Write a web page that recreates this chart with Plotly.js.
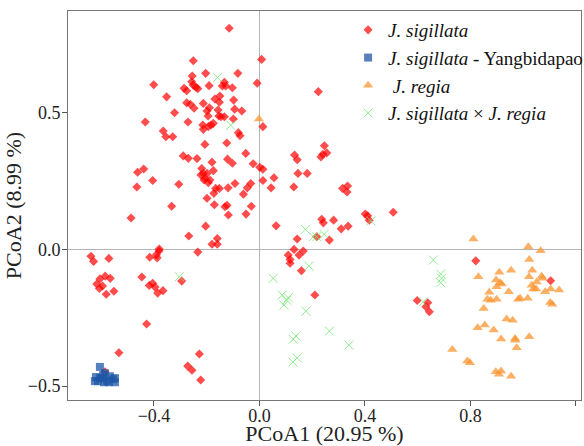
<!DOCTYPE html>
<html>
<head>
<meta charset="utf-8">
<script src="https://cdn.plot.ly/plotly-3.0.1.min.js"></script>
<style>html,body{margin:0;padding:0;background:#fff;}#chart{width:584px;height:446px;}</style>
</head>
<body>
<div id="chart"></div>
<script>
// J. sigillata
const sigX = [-0.115,-0.251,0.008,-0.204,-0.082,-0.255,-0.401,-0.257,-0.251,-0.241,-0.286,-0.276,-0.191,-0.133,-0.128,-0.141,-0.103,-0.009,-0.234,-0.352,-0.150,-0.169,-0.098,-0.276,-0.262,-0.248,-0.213,-0.152,-0.190,-0.199,-0.195,-0.157,-0.154,-0.146,-0.133,-0.094,-0.067,-0.099,-0.322,-0.433,-0.271,-0.175,-0.184,-0.194,-0.215,-0.213,0.013,-0.365,-0.355,-0.329,-0.080,-0.074,-0.207,-0.124,-0.052,-0.289,-0.270,-0.237,-0.180,-0.121,-0.103,-0.024,0.001,0.013,0.055,-0.462,-0.439,-0.405,-0.465,-0.306,-0.219,-0.213,-0.222,-0.199,-0.207,-0.188,-0.175,-0.194,-0.210,-0.166,-0.152,-0.173,-0.119,-0.093,-0.046,-0.033,-0.061,0.013,0.044,-0.199,-0.333,-0.487,-0.204,-0.268,0.063,-0.160,-0.180,-0.160,-0.380,-0.171,-0.131,-0.123,-0.118,-0.031,-0.051,-0.639,-0.629,-0.571,-0.416,-0.391,-0.381,-0.388,-0.234,-0.605,-0.617,-0.607,-0.595,-0.585,-0.566,-0.581,-0.552,-0.446,-0.418,-0.405,-0.396,-0.386,-0.366,-0.295,-0.428,-0.533,-0.228,-0.272,-0.256,-0.223,-0.586,0.246,0.255,0.233,0.240,0.133,0.143,0.146,0.181,0.130,0.315,0.334,0.332,0.236,0.242,0.281,0.310,0.336,0.401,0.410,0.416,0.507,0.143,0.217,0.265,0.131,0.166,0.109,0.116,0.116,0.150,0.159,0.210,0.598,0.223,0.820,1.104,0.638,0.631,0.644];
const sigY = [0.809,0.690,0.695,0.644,0.644,0.634,0.602,0.613,0.601,0.593,0.589,0.580,0.599,0.611,0.598,0.598,0.591,0.608,0.588,0.558,0.561,0.550,0.546,0.536,0.531,0.516,0.534,0.538,0.518,0.506,0.488,0.510,0.488,0.485,0.485,0.513,0.506,0.477,0.500,0.466,0.466,0.461,0.455,0.449,0.455,0.439,0.449,0.433,0.412,0.412,0.427,0.416,0.384,0.389,0.351,0.342,0.333,0.332,0.319,0.330,0.315,0.313,0.300,0.293,0.262,0.282,0.294,0.252,0.228,0.238,0.296,0.278,0.272,0.278,0.260,0.254,0.288,0.244,0.254,0.223,0.223,0.205,0.225,0.241,0.225,0.241,0.202,0.252,0.225,0.187,0.158,0.115,0.085,0.049,0.086,0.040,0.019,0.019,0.001,0.163,0.156,0.161,0.126,0.158,0.129,-0.025,-0.044,-0.033,-0.029,-0.020,-0.006,-0.031,-0.010,-0.108,-0.127,-0.143,-0.134,-0.098,-0.106,-0.164,-0.153,-0.101,-0.132,-0.124,-0.138,-0.160,-0.151,-0.116,-0.273,-0.378,-0.383,-0.427,-0.442,-0.478,-0.448,0.379,0.353,0.338,0.348,0.345,0.328,0.278,0.278,0.228,0.223,0.232,0.210,0.110,0.097,0.107,0.075,0.085,0.129,0.123,0.107,0.136,0.038,0.046,0.034,0.000,-0.006,-0.021,-0.037,-0.051,-0.021,-0.078,-0.167,-0.187,0.577,-0.042,-0.115,-0.195,-0.210,-0.228];
// J. sigillata - Yangbidapao
const yangX = [-0.605,-0.620,-0.612,-0.597,-0.586,-0.578,-0.567,-0.556,-0.548,-0.548,-0.590,-0.605,-0.624,-0.571,-0.593];
const yangY = [-0.430,-0.467,-0.482,-0.471,-0.453,-0.482,-0.464,-0.475,-0.486,-0.471,-0.486,-0.471,-0.482,-0.486,-0.460];
// J. regia
const regX = [-0.002,0.811,1.019,1.066,1.023,0.830,0.909,0.954,1.034,1.022,1.070,1.073,0.897,0.912,0.899,0.918,1.051,1.032,1.038,1.049,0.871,0.864,0.877,0.899,0.945,0.981,0.988,1.017,1.083,1.104,1.136,1.102,1.110,0.850,0.937,0.960,0.827,0.854,0.888,0.916,0.969,0.970,1.023,0.975,0.731,0.788,0.798,0.896,0.916,0.908,0.954];
const regY = [0.477,0.038,0.010,-0.005,-0.037,-0.100,-0.084,-0.076,-0.076,-0.100,-0.098,-0.106,-0.112,-0.122,-0.137,-0.127,-0.119,-0.131,-0.145,-0.145,-0.157,-0.182,-0.186,-0.182,-0.155,-0.182,-0.179,-0.179,-0.155,-0.145,-0.149,-0.194,-0.201,-0.216,-0.255,-0.259,-0.287,-0.277,-0.295,-0.328,-0.326,-0.332,-0.320,-0.360,-0.366,-0.408,-0.415,-0.448,-0.445,-0.457,-0.464];
// J. sigillata × J. regia
const hybX = [-0.159,-0.109,-0.304,0.174,0.204,0.217,0.245,0.422,0.188,0.052,0.086,0.109,0.093,0.103,0.176,0.265,0.128,0.138,0.339,0.143,0.659,0.687,0.691,0.687,0.621,0.127];
const hybY = [0.629,0.454,-0.100,0.073,0.046,0.046,0.055,0.104,-0.061,-0.106,-0.167,-0.177,-0.204,-0.186,-0.226,-0.299,-0.329,-0.317,-0.350,-0.397,-0.039,-0.090,-0.106,-0.122,-0.192,-0.412];

const names = ['<i>J. sigillata</i>', '<i>J. sigillata</i> - Yangbidapao', ' <i>J. regia</i>', '<i>J. sigillata</i> × <i>J. regia</i>'];

const traces = [
  {x: sigX, y: sigY, name: names[0], legendgroup: 'a', type: 'scatter', mode: 'markers',
   marker: {symbol: 'diamond', size: 7, color: 'rgba(255,0,0,0.7)', line: {width: 0}}},
  {x: yangX, y: yangY, name: names[1], legendgroup: 'b', type: 'scatter', mode: 'markers',
   marker: {symbol: 'square', size: 8, color: 'rgba(31,87,166,0.75)', line: {width: 0}}},
  {x: regX, y: regY, name: names[2], legendgroup: 'c', type: 'scatter', mode: 'markers',
   marker: {symbol: 'triangle-up', size: 9, color: 'rgba(250,150,50,0.75)', line: {width: 0}}},
  {x: hybX, y: hybY, name: names[3], legendgroup: 'd', type: 'scatter', mode: 'markers',
   marker: {symbol: 'x-thin-open', size: 9, color: 'rgba(120,230,120,0.8)', line: {width: 1, color: 'rgba(120,230,120,0.8)'}}}
];

const layout = {
  width: 584, height: 446,
  margin: {l: 68, r: 3, t: 11, b: 46, pad: 0, autoexpand: false},
  paper_bgcolor: '#fff', plot_bgcolor: '#fff',
  font: {family: 'Liberation Serif, Times New Roman, serif', size: 18, color: '#222'},
  showlegend: true,
  legend: {x: 0.546, y: 1, xanchor: 'left', yanchor: 'top', bgcolor: 'rgba(255,255,255,0)',
           font: {family: 'Liberation Serif, Times New Roman, serif', size: 19, color: '#111'},
           itemwidth: 30, tracegroupgap: 0},
  xaxis: {range: [-0.726, 1.219], tickvals: [-0.4, 0, 0.4, 0.8, 1.2], ticktext: ['\u22120.4', '0.0', '0.4', '0.8', '1.2'],
          showgrid: false, zeroline: true, zerolinecolor: '#b5b5b5', zerolinewidth: 1,
          showline: true, mirror: true, linecolor: '#777', linewidth: 1,
          ticks: 'outside', ticklen: 5, tickcolor: '#555', tickfont: {size: 18}, ticklabelstandoff: -6,
          title: {text: 'PCoA1 (20.95 %)', font: {size: 22}, standoff: 0}},
  yaxis: {range: [-0.551, 0.872], tickvals: [-0.5, 0, 0.5], ticktext: ['\u22120.5', '0.0', '0.5'],
          showgrid: false, zeroline: true, zerolinecolor: '#b5b5b5', zerolinewidth: 1,
          showline: true, mirror: true, linecolor: '#777', linewidth: 1,
          ticks: 'outside', ticklen: 5, tickcolor: '#555', tickfont: {size: 18}, ticklabelstandoff: -2,
          title: {text: 'PCoA2 (8.99 %)', font: {size: 22}, standoff: 0}}
};

Plotly.newPlot('chart', traces, layout, {displayModeBar: false, staticPlot: true});
</script>
</body>
</html>
